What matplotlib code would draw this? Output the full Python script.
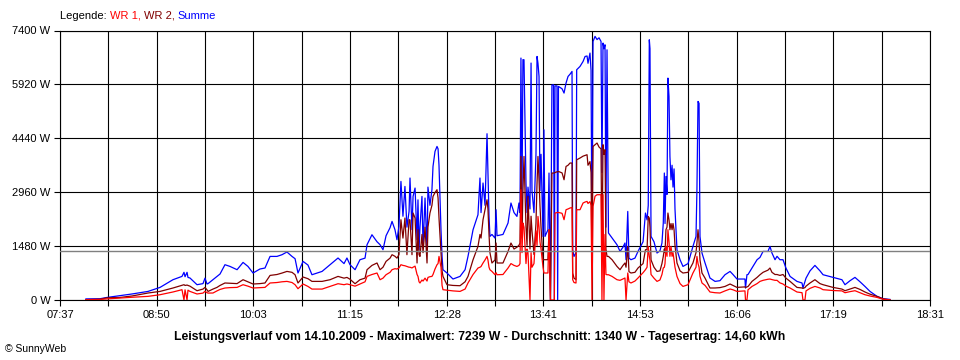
import matplotlib
matplotlib.use("Agg")
import matplotlib.pyplot as plt

# ── Daten (Minuten seit Mitternacht, Leistung in W) ────────────────────────────
times = [
    476.5, 487.1, 492.3, 502.1, 511.1, 523.2, 532.2, 541.9, 548.7, 550.2,
    551.0, 552.5, 553.2, 554.7, 560.0, 564.5, 566.0, 567.5, 568.3, 572.0,
    575.0, 577.3, 581.0, 584.8, 590.1, 594.6, 598.3, 602.1, 607.3, 611.1,
    614.9, 620.1, 623.9, 627.6, 631.4, 633.7, 635.9, 639.7, 643.4, 646.4,
    654.0, 660.0, 666.0, 670.5, 672.7, 675.0, 678.8, 682.5, 686.3, 687.8,
    691.5, 695.3, 697.6, 699.8, 702.1, 705.1, 706.6, 708.8, 710.3, 711.8,
    713.3, 714.8, 716.3, 717.8, 719.4, 720.1, 721.6, 722.4, 723.9, 725.4,
    726.1, 726.9, 727.6, 729.1, 729.9, 731.4, 732.9, 733.6, 735.1, 736.6,
    737.4, 738.9, 740.4, 741.2, 741.9, 743.4, 744.2, 744.9, 747.9, 752.4,
    757.7, 761.5, 763.7, 767.5, 771.2, 772.7, 773.5, 775.0, 776.5, 778.0,
    778.7, 779.5, 780.2, 781.7, 784.0, 784.8, 785.5, 790.0, 793.8, 796.0,
    798.3, 800.5, 802.0, 802.8, 803.5, 804.3, 805.0, 805.8, 807.3, 808.1,
    808.8, 810.3, 811.1, 811.8, 813.3, 814.8, 815.6, 816.3, 817.1, 817.8,
    818.6, 820.1, 820.8, 821.6, 823.8, 824.6, 825.7, 826.8, 828.0, 828.6,
    829.1, 830.6, 831.1, 831.7, 834.4, 835.9, 837.4, 838.9, 840.4, 841.9,
    842.4, 843.4, 844.9, 845.4, 847.9, 850.2, 851.7, 853.2, 853.9, 855.4,
    856.2, 856.9, 857.7, 859.2, 860.7, 862.2, 863.7, 864.4, 865.2, 865.9,
    866.7, 867.4, 868.2, 869.3, 872.0, 875.7, 878.0, 880.2, 881.7, 882.5,
    883.8, 884.7, 886.2, 889.2, 891.5, 895.3, 897.1, 898.3, 899.2, 900.0,
    900.5, 901.3, 903.5, 905.8, 908.0, 909.5, 910.5, 911.3, 911.8, 912.5,
    913.3, 914.0, 914.8, 915.5, 916.3, 917.1, 917.8, 918.6, 919.3, 920.8,
    923.1, 925.3, 929.1, 932.8, 935.1, 935.8, 936.6, 937.4, 938.1, 939.6,
    941.9, 945.6, 949.4, 953.1, 956.9, 960.7, 962.9, 965.9, 971.9, 972.3,
    973.4, 974.2, 977.2, 981.0, 983.2, 985.5, 989.2, 990.7, 992.2, 994.5,
    996.0, 998.2, 1000.5, 1002.7, 1005.8, 1011.0, 1014.8, 1015.5, 1017.0, 1017.8,
    1020.8, 1024.5, 1028.3, 1030.6, 1038.1, 1044.8, 1047.1, 1050.9, 1054.6, 1058.4,
    1062.1, 1065.9, 1071.2, 1075.7, 1080.9,
]

summe = [
    30, 35, 70, 120, 165, 236, 346, 557, 648, 760,
    640, 760, 620, 604, 420, 450, 600, 440, 450, 557,
    640, 714, 969, 922, 832, 1032, 922, 741, 851, 878,
    1197, 1197, 1244, 1318, 1197, 1134, 741, 1060, 960, 694,
    785, 969, 1153, 1000, 1153, 969, 832, 1106, 1150, 1518,
    1792, 1600, 1518, 1381, 1765, 1985, 2158, 1930, 1655, 2020,
    3256, 2300, 3118, 2000, 2432, 3349, 1930, 2844, 3074, 1655,
    2750, 1381, 2000, 2844, 1450, 2800, 1381, 3100, 2600, 3028,
    3667, 4079, 4216, 4150, 3700, 1930, 1197, 832, 741, 576,
    648, 832, 1197, 1930, 2341, 3349, 2400, 3212, 2600, 4565,
    3500, 2300, 1746, 1800, 1700, 2479, 1765, 1800, 2114, 2663,
    2400, 2295, 2663, 2400, 6643, 2800, 6600, 6596, 3200, 2400,
    3100, 2500, 6506, 3000, 2400, 4000, 6687, 6500, 6138, 3000,
    4000, 1746, 4674, 1746, 1930, 3486, 0, 5900, 5910, 0,
    5880, 5880, 0, 5864, 5800, 5682, 5957, 6138, 6200, 6276,
    1381, 1197, 1300, 6322, 6413, 6550, 6687, 6700, 6500, 6780,
    6300, 1500, 7098, 7239, 7150, 7200, 7100, 3500, 7055, 6900,
    7008, 2000, 6870, 1839, 1702, 1518, 1334, 1450, 1565, 1106,
    2432, 1150, 1106, 1150, 1334, 1600, 2388, 2200, 2600, 7145,
    6900, 1746, 1600, 1290, 1350, 1565, 2114, 3486, 2100, 3393,
    2900, 6093, 5589, 3942, 3300, 3700, 3100, 3600, 2500, 1381,
    1106, 922, 1000, 1471, 1746, 3028, 5452, 5400, 1746, 1290,
    1016, 604, 511, 530, 694, 785, 700, 576, 576, 329,
    694, 700, 878, 1106, 1170, 1334, 1334, 1471, 1290, 1106,
    1200, 1106, 1106, 878, 648, 511, 467, 329, 500, 600,
    800, 950, 800, 694, 621, 557, 420, 530, 621, 500,
    373, 236, 99, 36, 16,
]

wr2 = [
    10, 20, 60, 70, 110, 192, 236, 329, 401, 420,
    400, 410, 400, 380, 255, 300, 346, 280, 236, 300,
    346, 400, 467, 460, 450, 557, 500, 439, 450, 467,
    675, 700, 740, 785, 760, 694, 467, 631, 585, 511,
    511, 557, 648, 600, 620, 570, 447, 557, 600, 832,
    950, 1016, 832, 900, 1060, 1150, 1244, 1200, 1150, 1244,
    2205, 1700, 2251, 1244, 2205, 2200, 1244, 2388, 2251, 1016,
    1930, 1244, 1197, 1800, 1300, 2000, 1016, 2000, 2388, 2600,
    2844, 2950, 3028, 2800, 2251, 1290, 800, 648, 420, 400,
    392, 500, 648, 1106, 1471, 1800, 1700, 2205, 2479, 2753,
    2500, 1800, 1300, 1016, 1100, 1565, 1016, 1016, 1334, 1565,
    1400, 1450, 1500, 1565, 3942, 1700, 3000, 3942, 2000, 1500,
    2844, 1400, 2300, 1900, 1250, 2100, 3212, 3942, 3300, 2600,
    2000, 1106, 1106, 1106, 1106, 1930, 0, 3486, 3486, 3486,
    3500, 3520, 3520, 3530, 3490, 3302, 3667, 3700, 3761, 3761,
    741, 600, 557, 3850, 3898, 3950, 3970, 3989, 3700, 3800,
    3500, 1000, 4216, 4263, 4310, 4200, 4150, 1106, 4263, 4000,
    4126, 1400, 1197, 1197, 1106, 922, 832, 950, 1016, 900,
    1471, 780, 741, 760, 878, 1000, 1381, 1381, 2295, 2250,
    2000, 1100, 900, 785, 800, 1000, 1197, 1400, 1300, 1930,
    2000, 2388, 2200, 1930, 2100, 1930, 2100, 1930, 1500, 1016,
    800, 741, 760, 1016, 1300, 1565, 1930, 1600, 1100, 741,
    600, 329, 330, 340, 373, 439, 400, 346, 360, 340,
    360, 370, 511, 620, 694, 760, 820, 878, 760, 700,
    700, 675, 700, 600, 511, 346, 330, 320, 340, 380,
    467, 557, 450, 420, 346, 300, 255, 300, 346, 290,
    220, 160, 99, 30, 5,
]

wr1 = [
    10, 15, 30, 55, 75, 100, 145, 220, 283, 0,
    280, 0, 270, 236, 165, 190, 240, 200, 190, 192,
    250, 290, 329, 340, 346, 420, 380, 329, 340, 346,
    467, 480, 500, 511, 480, 420, 310, 439, 373, 300,
    300, 373, 447, 420, 440, 420, 380, 440, 500, 648,
    700, 741, 557, 600, 694, 760, 832, 860, 850, 880,
    969, 950, 940, 920, 900, 900, 880, 900, 930, 700,
    650, 500, 467, 550, 520, 600, 520, 620, 640, 648,
    700, 850, 969, 1000, 1197, 900, 400, 283, 270, 250,
    236, 300, 467, 700, 878, 900, 920, 1016, 1100, 1197,
    1100, 900, 830, 785, 694, 750, 694, 700, 878, 1000,
    950, 922, 950, 1000, 3028, 1300, 2114, 2000, 1000, 1400,
    1300, 0, 1300, 900, 1000, 1900, 1500, 2295, 2000, 1600,
    1400, 900, 741, 741, 741, 1930, 0, 0, 0, 0,
    2388, 2400, 2400, 2405, 2380, 2205, 2479, 2500, 2526, 2540,
    557, 480, 467, 2479, 2479, 2663, 2690, 2707, 2650, 2700,
    2600, 0, 2570, 2850, 2891, 2891, 2891, 0, 2891, 0,
    1800, 700, 694, 694, 648, 557, 540, 580, 604, 0,
    741, 500, 467, 520, 604, 750, 832, 900, 1471, 1200,
    1100, 700, 600, 511, 550, 700, 878, 900, 1000, 1471,
    1200, 1930, 1600, 1200, 1471, 1200, 1300, 1100, 900, 648,
    450, 373, 420, 741, 900, 1197, 1000, 900, 650, 467,
    400, 220, 200, 192, 250, 302, 280, 236, 250, 0,
    0, 280, 373, 450, 511, 540, 570, 576, 560, 540,
    540, 470, 439, 380, 329, 220, 200, 0, 0, 250,
    320, 373, 330, 283, 260, 250, 200, 230, 255, 200,
    145, 110, 71, 20, 5,
]

average = 1340
y_ticks = [0, 1480, 2960, 4440, 5920, 7400]
x_start, x_end = 457, 1111          # 07:37 .. 18:31
x_labels = ["07:37", "08:50", "10:03", "11:15", "12:28",
            "13:41", "14:53", "16:06", "17:19", "18:31"]

FONT = "Liberation Sans"

fig = plt.figure(figsize=(9.6, 3.6), dpi=100)
ax = fig.add_axes([60 / 960, 60 / 360, 870 / 960, 269.5 / 360])

ax.plot(times, summe, color="#0000FF", lw=0.9)
ax.plot(times, wr2, color="#800000", lw=0.9)
ax.plot(times, wr1, color="#FF0000", lw=0.9)
ax.axhline(average, color="#808080", lw=1.0, zorder=5)

ax.set_xlim(x_start, x_end)
ax.set_ylim(0, 7400)

# 18 Rasterfelder, Beschriftung an jeder zweiten Linie
step = (x_end - x_start) / 18
ticks = [x_start + i * step for i in range(19)]
ax.set_xticks(ticks)
ax.set_xticklabels([x_labels[i // 2] if i % 2 == 0 else "" for i in range(19)],
                   fontsize=8, family=FONT)
ax.set_yticks(y_ticks)
ax.set_yticklabels([f"{v} W" for v in y_ticks], fontsize=8, family=FONT)
ax.tick_params(direction="out", length=4, width=0.8, color="black", pad=3)
ax.grid(True, color="black", lw=0.8)
for s in ax.spines.values():
    s.set_linewidth(0.8)

# Legende mehrfarbig, Stück für Stück aneinandergehängt
t = fig.text(60 / 960, 1 - 16 / 360, "Legende: ", fontsize=8, family=FONT,
             va="center", ha="left")
for txt, col in [("WR 1, ", "#FF0000"), ("WR 2, ", "#800000"), ("Summe", "#0000FF")]:
    t = ax.annotate(txt, xy=(1, 0), xycoords=t, va="bottom", ha="left",
                    fontsize=8, family=FONT, color=col)

fig.text(0.5, 1 - 337 / 360,
         "Leistungsverlauf vom 14.10.2009 - Maximalwert: 7239 W - "
         "Durchschnitt: 1340 W - Tagesertrag: 14,60 kWh",
         ha="center", va="center", fontsize=8.8, fontweight="bold", family=FONT)
fig.text(5 / 960, 1 - 349 / 360, "© SunnyWeb", ha="left", va="center",
         fontsize=7.5, family=FONT)

fig.savefig("out.png", dpi=100)
